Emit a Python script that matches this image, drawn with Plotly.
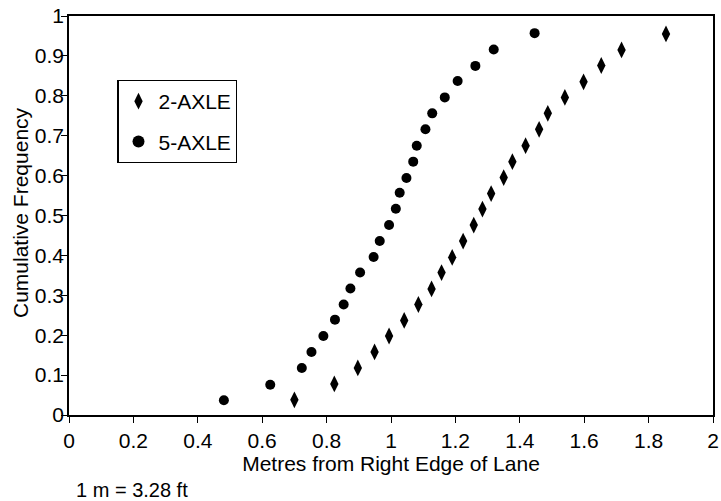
import plotly.graph_objects as go

# 2-AXLE (diamonds)
axle2_x = [0.700, 0.824, 0.897, 0.949, 0.994, 1.041, 1.085, 1.126, 1.157, 1.190,
           1.224, 1.257, 1.284, 1.311, 1.350, 1.377, 1.418, 1.460, 1.487, 1.540,
           1.598, 1.653, 1.716, 1.854]
axle2_y = [0.038, 0.078, 0.118, 0.158, 0.198, 0.237, 0.277, 0.316, 0.357, 0.395,
           0.436, 0.476, 0.516, 0.555, 0.595, 0.635, 0.675, 0.716, 0.756, 0.796,
           0.835, 0.876, 0.915, 0.955]

# 5-AXLE (circles)
axle5_x = [0.481, 0.625, 0.723, 0.753, 0.790, 0.826, 0.853, 0.874, 0.904, 0.946,
           0.965, 0.994, 1.015, 1.027, 1.048, 1.069, 1.080, 1.107, 1.128, 1.167,
           1.207, 1.262, 1.319, 1.446]
axle5_y = [0.037, 0.076, 0.118, 0.158, 0.198, 0.239, 0.277, 0.317, 0.357, 0.396,
           0.436, 0.476, 0.517, 0.557, 0.594, 0.635, 0.675, 0.716, 0.756, 0.796,
           0.837, 0.875, 0.916, 0.957]

x_ticks = [0, 0.2, 0.4, 0.6, 0.8, 1, 1.2, 1.4, 1.6, 1.8, 2]
y_ticks = [0, 0.1, 0.2, 0.3, 0.4, 0.5, 0.6, 0.7, 0.8, 0.9, 1]

FONT = "Liberation Sans, Arial, Helvetica, sans-serif"
BLACK = "black"

fig = go.Figure()
fig.add_trace(go.Scatter(
    x=axle2_x, y=axle2_y, mode="markers", name="2-AXLE", legendgroup="a",
    marker=dict(symbol="diamond-tall", size=12, color=BLACK),
))
fig.add_trace(go.Scatter(
    x=axle5_x, y=axle5_y, mode="markers", name="5-AXLE", legendgroup="b",
    marker=dict(symbol="circle", size=10, color=BLACK),
))

axis_common = dict(
    showgrid=False, zeroline=False, showline=True, linecolor=BLACK,
    linewidth=1.5, mirror=True, ticks="outside", ticklen=6, tickwidth=1.2,
    tickcolor=BLACK, tickfont=dict(family=FONT, size=21, color=BLACK),
    automargin=False,
)

fig.update_layout(
    width=721, height=501,
    margin=dict(l=69, r=8, t=16, b=86),
    paper_bgcolor="white", plot_bgcolor="white",
    font=dict(family=FONT, size=21, color=BLACK),
    showlegend=True,
    legend=dict(
        x=0.075, y=0.84, xanchor="left", yanchor="top",
        bordercolor=BLACK, borderwidth=1.2, bgcolor="white",
        font=dict(family=FONT, size=21, color=BLACK),
        tracegroupgap=10, itemsizing="constant",
    ),
    xaxis=dict(
        range=[0, 2], tickvals=x_ticks, ticktext=[f"{v:g}" for v in x_ticks],
        title=dict(text="Metres from Right Edge of Lane", standoff=0,
                   font=dict(family=FONT, size=21, color=BLACK)),
        **axis_common,
    ),
    yaxis=dict(
        range=[0, 1], tickvals=y_ticks, ticktext=[f"{v:g}" for v in y_ticks],
        ticklabelstandoff=-7,
        **axis_common,
    ),
    annotations=[
        dict(text="Cumulative Frequency", xref="paper", yref="paper",
             x=-0.0756, y=0.507, xanchor="center", yanchor="middle",
             textangle=-90, showarrow=False,
             font=dict(family=FONT, size=21, color=BLACK)),
        dict(text="1 m = 3.28 ft", xref="paper", yref="paper",
             x=0.0077, y=-0.188, xanchor="left", yanchor="middle",
             showarrow=False, font=dict(family=FONT, size=20, color=BLACK)),
    ],
)

fig.write_html(
    "out.html",
    config={"displayModeBar": False},
    post_script="document.body.style.margin='0';document.body.style.overflow='hidden';",
)
